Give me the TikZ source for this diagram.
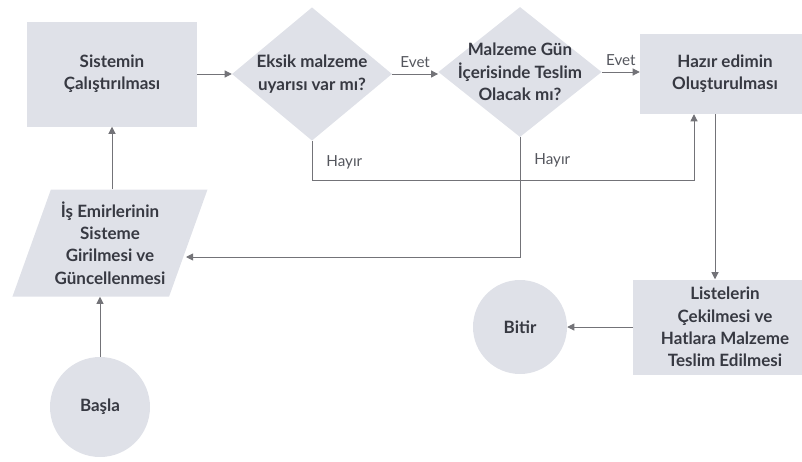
\documentclass[tikz,border=0pt]{standalone}
\usepackage{fontspec}
\setmainfont{Lato}
\usetikzlibrary{positioning}
\usetikzlibrary{shapes.geometric}
\usetikzlibrary{arrows.meta}

\definecolor{kutu}{RGB}{223,225,232}
\definecolor{yazirenk}{RGB}{55,57,66}
\definecolor{cizgi}{RGB}{115,115,120}

\tikzset{
  metin/.style={align=center, text=yazirenk, font=\bfseries\fontsize{14.5}{19}\selectfont},
  islem/.style={rectangle, fill=kutu, metin},
  karar/.style={diamond, fill=kutu, inner sep=1pt},
  veri/.style={trapezium, trapezium left angle=72, trapezium right angle=108, trapezium stretches=true, fill=kutu, inner sep=1pt},
  ucnokta/.style={circle, fill=kutu, metin},
  etiket/.style={text=yazirenk!85, font=\fontsize{13}{15}\selectfont},
  hat/.style={draw=cizgi, line width=0.8pt}
}

\begin{document}
\begin{tikzpicture}[x=0.3mm, y=-0.3mm, >={Triangle[length=6pt,width=6pt]}]
				\useasboundingbox (0,0) rectangle (802,461);
				\node[islem, minimum width=51mm, minimum height=31.5mm] (sistem) at (112,74) {Sistemin\\Çalıştırılması};
				\node[karar, minimum width=48mm, minimum height=40mm, label={[metin]center:Eksik malzeme\\uyarısı var mı?}] (eksik) at (312,74) {};
				\node[karar, minimum width=49mm, minimum height=39mm, label={[metin]center:Malzeme Gün\\İçerisinde Teslim\\Olacak mı?}] (gun) at (520,72) {};
				\node[islem, minimum width=51mm, minimum height=24mm] (hazir) at (725,74) {Hazır edimin\\Oluşturulması};
				\node[islem, minimum width=55mm, minimum height=28.5mm] (liste) at (725,327) {Listelerin\\Çekilmesi ve\\Hatlara Malzeme\\Teslim Edilmesi};
				\node[ucnokta, minimum size=28.2mm] (bitir) at (520,327) {Bitir};
				\node[veri, minimum width=58.5mm, minimum height=32.1mm, label={[metin]center:İş Emirlerinin\\Sisteme\\Girilmesi ve\\Güncellenmesi}] (isemri) at (110,243) {};
				\node[ucnokta, minimum size=30mm] (basla) at (100,407) {Başla};
				
				\coordinate (k1) at (694,180);
				\coordinate (k2) at (520,257);
				\coordinate (k3) at (186,257);
				
				\draw[hat,->] (basla) -- (basla |- isemri.south);
				\draw[hat,->] (sistem.south |- isemri.north) -- (sistem.south);
				\draw[hat,->] (sistem) -- (eksik);
				\draw[hat,->] (eksik.east) -- node[etiket, above=2pt] {Evet} (eksik.east -| gun.west);
				\draw[hat,->] (gun.east) -- node[etiket, above=2pt] {Evet} (gun.east -| hazir.west);
				\draw[hat,->] (eksik.south) |- node[etiket, pos=0.27, right=3mm] {Hayır} (k1) -- (k1 |- hazir.south);
				\draw[hat,->] (gun.south) -- node[etiket, pos=0.19, right=3mm] {Hayır} (k2) -- (k3);
				\draw[hat,->] ([xshift=-3mm]hazir.south) -- ([xshift=-3mm]hazir.south |- liste.north);
				\draw[hat,->] (liste) -- (bitir);
			\end{tikzpicture}
\end{document}
